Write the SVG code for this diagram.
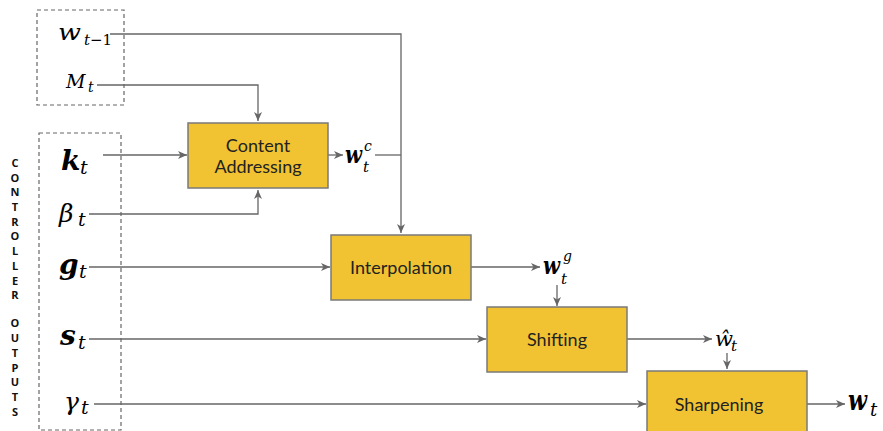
<svg xmlns="http://www.w3.org/2000/svg" width="883" height="431" viewBox="0 0 883 431">
<style>
.box{fill:#F1C232;stroke:#7a7a7a;stroke-width:1.5}
.lbl{font-family:Lato,"Open Sans",sans-serif;font-size:18px;fill:#222;text-anchor:middle}
.dash{fill:none;stroke:#666;stroke-width:1.2;stroke-dasharray:4,3}
.c{fill:none;stroke:#666;stroke-width:1.3}
.m{font-family:"DejaVu Serif",serif;font-style:italic;fill:#000}
.b{font-weight:bold}
.v{font-family:"Open Sans","Liberation Sans",sans-serif;font-weight:bold;font-size:11px;fill:#111;text-anchor:middle}
</style>
<defs>
<marker id="ah" markerUnits="userSpaceOnUse" markerWidth="10" markerHeight="8" refX="9" refY="4" orient="auto">
<path d="M0,0 L9,4 L0,8 L2.5,4 z" fill="#666"/>
</marker>
</defs>
<rect width="883" height="431" fill="#fff"/>
<rect class="dash" x="37" y="10" width="87" height="95"/>
<rect class="dash" x="39" y="133" width="82" height="297"/>
<g id="vertical-label">
<text class="v" x="15" y="167">C</text>
<text class="v" x="15" y="182">O</text>
<text class="v" x="15" y="196">N</text>
<text class="v" x="15" y="211">T</text>
<text class="v" x="15" y="226">R</text>
<text class="v" x="15" y="240">O</text>
<text class="v" x="15" y="255">L</text>
<text class="v" x="15" y="270">L</text>
<text class="v" x="15" y="285">E</text>
<text class="v" x="15" y="299">R</text>
<text class="v" x="15" y="327">O</text>
<text class="v" x="15" y="342">U</text>
<text class="v" x="15" y="357">T</text>
<text class="v" x="15" y="372">P</text>
<text class="v" x="15" y="386">U</text>
<text class="v" x="15" y="401">T</text>
<text class="v" x="15" y="416">S</text>
</g>
<g id="connectors">
<path class="c" d="M110,34 H401 V233" marker-end="url(#ah)"/>
<path class="c" d="M97,85 H258 V121" marker-end="url(#ah)"/>
<path class="c" d="M103,155 H187" marker-end="url(#ah)"/>
<path class="c" d="M89,214 H258 V190" marker-end="url(#ah)"/>
<path class="c" d="M328,155 H343" marker-end="url(#ah)"/>
<path class="c" d="M375,155 H401"/>
<path class="c" d="M89,267 H330" marker-end="url(#ah)"/>
<path class="c" d="M471,267 H540" marker-end="url(#ah)"/>
<path class="c" d="M557,285 V306" marker-end="url(#ah)"/>
<path class="c" d="M89,339 H486" marker-end="url(#ah)"/>
<path class="c" d="M627,339 H712" marker-end="url(#ah)"/>
<path class="c" d="M727,353 V369" marker-end="url(#ah)"/>
<path class="c" d="M94,404 H646" marker-end="url(#ah)"/>
<path class="c" d="M807,404 H845" marker-end="url(#ah)"/>
</g>
<g id="content-addressing">
<rect class="box" x="188" y="123" width="140" height="65"/>
<text class="lbl" x="258" y="152">Content</text>
<text class="lbl" x="258" y="173">Addressing</text>
</g>
<g id="interpolation">
<rect class="box" x="331" y="235" width="140" height="65"/>
<text class="lbl" x="401" y="274">Interpolation</text>
</g>
<g id="shifting">
<rect class="box" x="487" y="307" width="140" height="65"/>
<text class="lbl" x="557" y="346">Shifting</text>
</g>
<g id="sharpening">
<rect class="box" x="647" y="371" width="160" height="70"/>
<text class="lbl" x="719" y="411">Sharpening</text>
</g>
<g id="labels">
<text class="m" x="58" y="40" font-size="22" textLength="23" lengthAdjust="spacingAndGlyphs">w</text>
<text class="m" x="84" y="45" font-size="15">t<tspan font-style="normal">−1</tspan></text>
<text class="m" x="66" y="88" font-size="19">M</text>
<text class="m" x="88" y="92" font-size="14">t</text>
<text class="m b" x="61" y="170" font-size="28">k</text>
<text class="m" x="80" y="174" font-size="19">t</text>
<text class="m" x="59" y="222" font-size="25">β</text>
<text class="m" x="78" y="226" font-size="19">t</text>
<text class="m b" x="59" y="274" font-size="28">g</text>
<text class="m" x="79" y="278" font-size="19">t</text>
<text class="m b" x="60" y="345" font-size="28">s</text>
<text class="m" x="78" y="349" font-size="19">t</text>
<text class="m" x="64" y="410" font-size="25">γ</text>
<text class="m" x="81" y="414" font-size="19">t</text>
<text class="m b" x="345" y="163" font-size="24" textLength="17" lengthAdjust="spacingAndGlyphs">w</text>
<text class="m" x="364" y="151" font-size="14">c</text>
<text class="m" x="363" y="172" font-size="15">t</text>
<text class="m b" x="543" y="274" font-size="24" textLength="17" lengthAdjust="spacingAndGlyphs">w</text>
<text class="m" x="563" y="261" font-size="14">g</text>
<text class="m" x="561" y="284" font-size="15">t</text>
<text class="m" x="715" y="346" font-size="21">ŵ</text>
<text class="m" x="731" y="351" font-size="15">t</text>
<text class="m b" x="848" y="410" font-size="27" textLength="19" lengthAdjust="spacingAndGlyphs">w</text>
<text class="m" x="870" y="416" font-size="18">t</text>
</g>
</svg>
